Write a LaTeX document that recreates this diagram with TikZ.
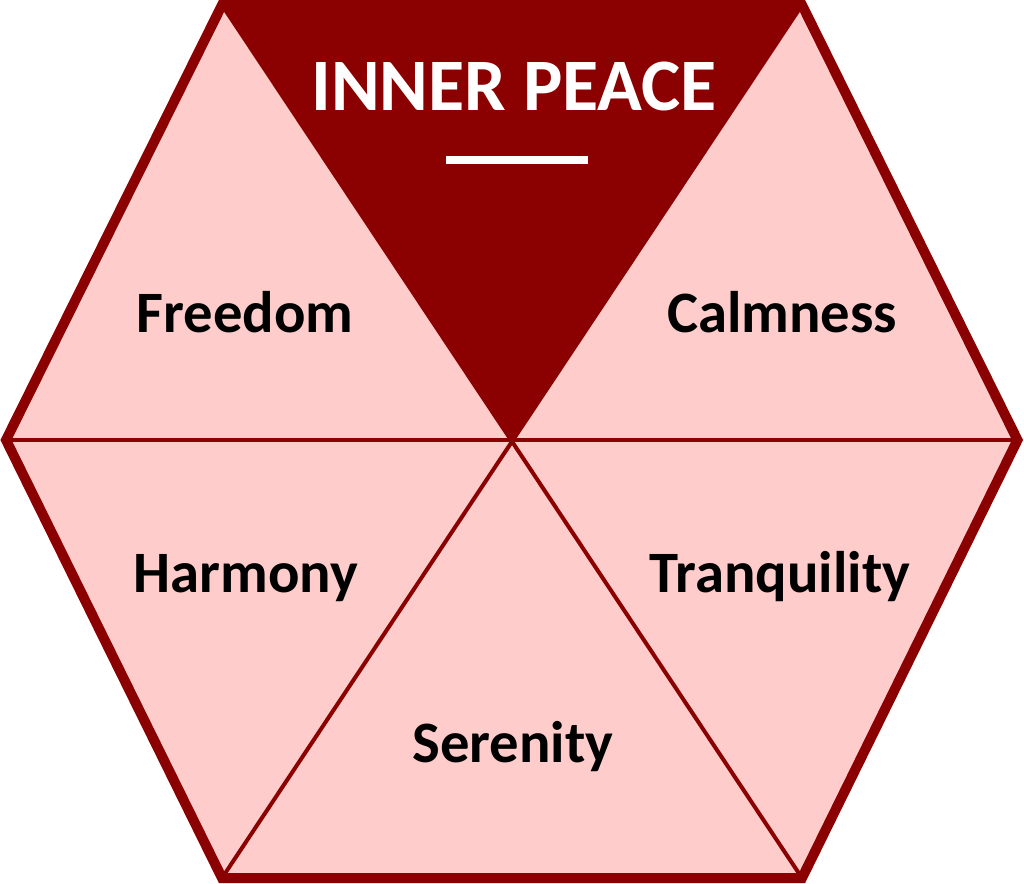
\documentclass[tikz,border=0pt]{standalone}
\usepackage{fontspec}
\setmainfont{Carlito}
\definecolor{hexdark}{HTML}{8B0000}
\definecolor{hexpink}{HTML}{FFCCCC}
\begin{document}
\begin{tikzpicture}[x=0.75pt,y=-0.75pt,
  lbl/.style={anchor=base,inner sep=0pt,font=\fontsize{44}{50}\selectfont\bfseries,text=black},
  ttl/.style={anchor=base,inner sep=0pt,font=\fontsize{55.5}{64}\selectfont\bfseries,text=white},
  thin/.style={draw=hexdark,line width=3pt},
  thick/.style={draw=hexdark,line width=7.5pt,line join=miter}]
\useasboundingbox (0,0) rectangle (1024,883);
\coordinate (A) at (222,5);
\coordinate (B) at (802,5);
\coordinate (C) at (1017.5,440);
\coordinate (D) at (802,878);
\coordinate (E) at (222,878);
\coordinate (F) at (6,440);
\coordinate (O) at (512,440);
\fill[hexpink] (A) -- (B) -- (C) -- (D) -- (E) -- (F) -- cycle;
\fill[hexdark] (A) -- (B) -- (O) -- cycle;
\draw[thin] (F) -- (C);
\draw[thin] (A) -- (D);
\draw[thin] (B) -- (E);
\draw[thick] (A) -- (B) -- (C) -- (D) -- (E) -- (F) -- cycle;
\node[ttl] (title) at (514,110) {INNER PEACE};
\coordinate (u1) at (446,160);
\coordinate (u2) at (588,160);
\draw[white,line width=6pt] (u1) -- (u2);
\node[lbl] (freedom) at (245,332) {Freedom};
\node[lbl] (calm) at (782,332) {Calmness};
\node[lbl] (harmony) at (246,592) {Harmony};
\node[lbl] (tranq) at (780,592) {Tranquility};
\node[lbl] (seren) at (513,762) {Serenity};
\end{tikzpicture}
\end{document}
